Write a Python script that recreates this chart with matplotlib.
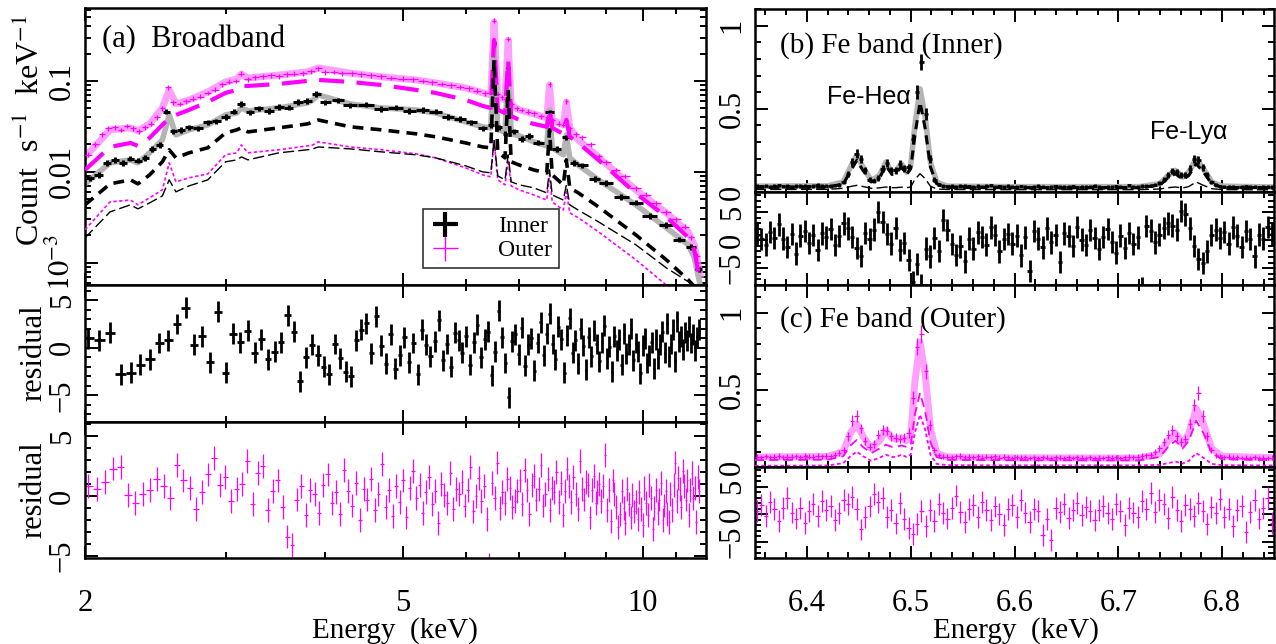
import numpy as np
import matplotlib
matplotlib.use("Agg")
import matplotlib.pyplot as plt
from matplotlib.lines import Line2D
from matplotlib.ticker import FixedLocator, MultipleLocator, FuncFormatter, NullFormatter, LogLocator

plt.rcParams['font.family'] = ['Liberation Serif', 'DejaVu Serif']
plt.rcParams['mathtext.fontset'] = 'stix'
plt.rcParams['axes.linewidth'] = 1.8

MAGENTA = '#ff00ff'
PINK = '#ff80ff'
GRAY = '#b4b4b4'

# ---- broadband spectrum: model curves (counts/s/keV) ----
bb_energy = [2.0, 2.15, 2.28, 2.33, 2.41, 2.5, 2.55, 2.6, 2.7, 2.85, 3.0, 3.1, 3.14, 3.2, 3.5,
             3.8, 3.86, 3.92, 4.3, 4.7, 5.2, 5.5, 6.0, 6.3, 6.45, 6.51, 6.58, 6.72, 6.78, 6.84,
             7.0, 7.3, 7.58, 7.64, 7.7, 7.95, 8.02, 8.1, 8.3, 8.8, 9.8, 10.7, 11.4, 11.6, 11.8]
outer_model = [0.0146, 0.029, 0.0305, 0.0282, 0.0337, 0.0505, 0.0796, 0.0558, 0.0618, 0.0757,
               0.0975, 0.105, 0.119, 0.108, 0.116, 0.126, 0.132, 0.139, 0.122, 0.111, 0.1026,
               0.095, 0.0838, 0.0738, 0.0702, 0.445, 0.0684, 0.0618, 0.282, 0.0545, 0.048,
               0.0434, 0.0392, 0.0903, 0.0372, 0.0328, 0.0587, 0.0305, 0.0225, 0.0146, 0.00634,
               0.00354, 0.00219, 0.00158, 0.00074]
outer_hot = [0.0105, 0.0188, 0.0208, 0.0193, 0.0237, 0.0328, 0.0392, 0.0423, 0.048, 0.0587,
             0.0738, 0.0796, 0.0881, 0.0881, 0.0927, 0.1, 0.1, 0.1026, 0.0975, 0.0903, 0.0796,
             0.0738, 0.0618, 0.0531, 0.0505, 0.282, 0.048, 0.0445, 0.170, 0.0412, 0.0372,
             0.0337, 0.0313, 0.048, 0.0305, 0.0262, 0.0372, 0.0243, 0.0208, 0.0135, 0.0058,
             0.0032, 0.0019, 0.00138, 0.00062]
outer_cool = [0.00231, 0.00468, 0.0049, 0.00434, 0.00518, 0.00634, 0.01256, 0.00777, 0.0086,
              0.0095, 0.0154, 0.0162, 0.0198, 0.0162, 0.0175, 0.0193, 0.0198, 0.0214, 0.0188,
              0.0175, 0.0158, 0.01426, 0.01106, 0.00927, 0.00881, 0.0225, 0.00817, 0.0072,
              0.01355, 0.00701, 0.00634, 0.00558, 0.0049, 0.00927, 0.00468, 0.0038, 0.00603,
              0.00354, 0.00313, 0.00219, 0.00108, 0.00057, 0.00039, 0.00034, 0.0003]
inner_model = [0.00738, 0.01256, 0.01355, 0.01256, 0.0162, 0.0225, 0.0423, 0.0255, 0.029, 0.0328,
               0.0423, 0.0445, 0.0505, 0.0468, 0.0505, 0.0573, 0.0618, 0.0702, 0.0558, 0.0505,
               0.048, 0.0445, 0.0354, 0.0313, 0.0305, 0.249, 0.029, 0.0275, 0.150, 0.0262, 0.0249,
               0.0214, 0.0193, 0.048, 0.0184, 0.0154, 0.0255, 0.01426, 0.0119, 0.00817, 0.00434,
               0.00243, 0.00158, 0.00114, 0.00057]
inner_hot = [0.00434, 0.00738, 0.00817, 0.00738, 0.00927, 0.0129, 0.0175, 0.01426, 0.0162, 0.0184,
             0.0268, 0.029, 0.0305, 0.0275, 0.0305, 0.0337, 0.0354, 0.0372, 0.0313, 0.029, 0.0262,
             0.0243, 0.0208, 0.0188, 0.0184, 0.170, 0.0166, 0.01426, 0.0796, 0.0129, 0.0119,
             0.0105, 0.00975, 0.029, 0.00927, 0.0072, 0.01355, 0.00667, 0.00588, 0.00412,
             0.00203, 0.00108, 0.00065, 0.00055, 0.00045]
inner_cool = [0.00188, 0.00363, 0.00434, 0.00392, 0.00456, 0.00544, 0.00817, 0.00603, 0.00701,
              0.00817, 0.0129, 0.01355, 0.0146, 0.01355, 0.0162, 0.0175, 0.0179, 0.0188, 0.0179,
              0.0166, 0.0154, 0.01426, 0.01164, 0.01, 0.00975, 0.0225, 0.00903, 0.00817, 0.0154,
              0.00777, 0.0072, 0.00667, 0.00588, 0.0105, 0.00558, 0.0049, 0.0072, 0.00434,
              0.0038, 0.00282, 0.00158, 0.00088, 0.00062, 0.00053, 0.00045]

# ---- broadband spectrum: data ----
inner_e = [2.03, 2.08, 2.13, 2.18, 2.23, 2.28, 2.33, 2.38, 2.43, 2.48, 2.53, 2.58, 2.64, 2.70,
           2.77, 2.85, 2.92, 3.00, 3.07, 3.14, 3.22, 3.30, 3.40, 3.50, 3.60, 3.70, 3.80, 3.90,
           4.00, 4.15, 4.30, 4.50, 4.70, 4.90, 5.10, 5.30, 5.50, 5.70, 5.90, 6.10, 6.30, 6.45,
           6.51, 6.60, 6.72, 6.78, 6.90, 7.05, 7.20, 7.40, 7.64, 7.80, 8.02, 8.20, 8.40, 8.70,
           9.00, 9.40, 9.80, 10.2, 10.7, 11.1, 11.5, 11.75]
inner_rate = [0.0085, 0.0092, 0.0125, 0.0135, 0.0126, 0.0140, 0.0133, 0.0143, 0.0180, 0.0198,
              0.046, 0.028, 0.029, 0.031, 0.030, 0.035, 0.036, 0.040, 0.046, 0.056, 0.045, 0.050,
              0.047, 0.052, 0.051, 0.059, 0.060, 0.072, 0.058, 0.061, 0.054, 0.055, 0.049, 0.051,
              0.047, 0.048, 0.046, 0.040, 0.038, 0.035, 0.030, 0.033, 0.26, 0.031, 0.026, 0.14,
              0.028, 0.023, 0.025, 0.021, 0.045, 0.018, 0.024, 0.0125, 0.0118, 0.0084, 0.0076,
              0.0053, 0.0046, 0.0033, 0.0026, 0.0018, 0.0015, 0.00085]
outer_e = [2.02, 2.06, 2.10, 2.14, 2.18, 2.22, 2.26, 2.30, 2.34, 2.38, 2.42, 2.46, 2.50, 2.54,
           2.58, 2.63, 2.68, 2.73, 2.79, 2.85, 2.91, 2.97, 3.03, 3.09, 3.14, 3.20, 3.27, 3.34,
           3.42, 3.50, 3.58, 3.66, 3.75, 3.84, 3.92, 4.00, 4.10, 4.20, 4.32, 4.44, 4.56, 4.70,
           4.84, 5.00, 5.15, 5.30, 5.45, 5.60, 5.75, 5.90, 6.05, 6.20, 6.35, 6.45, 6.51, 6.58,
           6.66, 6.72, 6.78, 6.85, 6.95, 7.05, 7.18, 7.30, 7.45, 7.58, 7.64, 7.72, 7.85, 7.95,
           8.02, 8.10, 8.25, 8.40, 8.60, 8.80, 9.00, 9.25, 9.50, 9.80, 10.1, 10.4, 10.7, 11.0,
           11.3, 11.5, 11.7]
outer_rate = [0.0155, 0.020, 0.026, 0.030, 0.031, 0.029, 0.032, 0.030, 0.028, 0.031, 0.034,
              0.040, 0.050, 0.085, 0.058, 0.056, 0.060, 0.064, 0.067, 0.074, 0.080, 0.092, 0.098,
              0.100, 0.120, 0.104, 0.110, 0.112, 0.115, 0.113, 0.118, 0.120, 0.122, 0.128, 0.138,
              0.124, 0.126, 0.121, 0.122, 0.118, 0.115, 0.112, 0.108, 0.106, 0.104, 0.100, 0.097,
              0.093, 0.090, 0.086, 0.083, 0.078, 0.073, 0.075, 0.46, 0.072, 0.066, 0.063, 0.29,
              0.056, 0.050, 0.048, 0.046, 0.044, 0.041, 0.040, 0.092, 0.037, 0.034, 0.033, 0.060,
              0.030, 0.026, 0.024, 0.020, 0.0150, 0.0128, 0.0105, 0.0090, 0.0066, 0.0056, 0.0045,
              0.0036, 0.0030, 0.0025, 0.0019, 0.0012]

# residuals of the broadband fit (2.02-11.76 keV, equal-width bins)
inner_resid = [1.0, 0.8, 1.6, -2.8, -2.6, -1.8, -1.2, 0.5, 0.8, 2.5, 4.2, 0.3, 1.2, -1.5, 3.8,
               -2.6, 1.5, 0.6, 1.8, -0.5, 0.9, -1.2, -0.4, 0.6, 3.4, 1.7, -3.5, -1.0, 0.3, -0.8,
               -2.0, -2.8, 0.4, -1.1, -2.5, -3.0, 0.8, 1.9, 2.6, -0.6, 3.3, 0.2, -1.7, 1.4, -2.2,
               -0.8, 1.1, -1.5, 0.5, -2.8, 1.9, 0.3, -0.9, 0.7, 2.9, -1.3, 0.4, -2.0, 1.6, 0.8,
               -0.5, 1.2, -1.8, 0.6, 2.4, -1.0, 0.9, 1.7, -2.9, -0.4, 3.9, 1.1, -1.6, -5.2, 0.7,
               1.4, -0.7, 2.1, -1.9, 0.3, 1.0, -2.4, 0.5, 2.7, -0.8, 1.5, 3.6, 0.4, -1.2, 2.2,
               0.9, -2.6, 1.3, 3.1, -0.5, 0.8, -1.7, 2.0, 0.2, -2.3, 1.1, -0.9, 1.8, 0.4, -1.4,
               0.6, 2.3, -1.1, 0.1, -2.5, 1.2, -0.3, 0.9, -1.8, 1.5, -0.6, 0.3, 2.0, -1.3, 0.5,
               -0.4, -2.7, 0.2, 1.0, -1.6, -0.8, 0.6, -2.2, 0.9, -1.1, 0.3, 1.7, -0.5, 2.6, -0.9,
               0.4, 1.9, -1.4, 2.8, 0.7, 1.2, -0.2, 1.6, 0.8, 2.2, 0.5, 1.4, -0.3, 1.1, 1.9]
outer_resid = [0.8, 0.6, 1.2, 2.3, 2.4, 0.1, -0.6, 0.2, 0.5, 1.4, 0.8, -0.2, 2.6, 1.3, 0.7, -1.1, 0.3, 1.8, 3.2, 0.9,
               1.6, -0.4, 0.6, 1.0, 2.9, -0.7, 1.9, 2.5, -1.2, 0.4, 1.3, -0.9, -3.4, -4.1, -0.3, 0.8, -1.6, 0.5, 0.2, -1.4,
               0.9, 1.8, -0.6, 0.3, -1.5, 2.2, 0.4, -0.8, 1.1, -2.0, 0.6, -0.3, 1.4, -1.2, 0.2, 2.7, -0.9, 0.5, -1.7, 0.8,
               -0.5, 1.3, -1.8, 0.7, 2.1, -0.2, 0.9, -1.4, 0.3, 1.6, -0.7, 0.4, -2.3, 1.0, 0.1, -0.6, 1.9, -1.1, 0.6, 0.2,
               1.2, -0.8, 0.5, 2.4, -1.3, 0.0, 1.5, -0.4, 0.8, -1.9, -5.8, 1.1, -0.2, 2.8, -1.0, 0.3, -0.6, 1.4, 0.7, -0.9,
               -0.4, 0.4, 1.3, -0.7, 2.2, 0.5, -1.5, 0.9, 1.7, -0.3, 0.6, 2.6, -0.8, 0.2, 1.4, -1.2, 0.7, 0.3, 2.0, -0.5,
               1.1, -1.6, 0.4, 2.3, 0.8, -0.5, 1.6, 0.2, -1.1, 2.9, 0.6, -0.3, 1.2, 0.9, -1.8, 0.5, 1.7, -0.6, 0.3, 1.0,
               -0.4, 0.8, 3.4, -1.2, 0.5, -2.1, 1.3, 0.2, -0.9, -2.6, -1.5, 0.4, -1.0, -2.3, 0.6, -0.7, -1.8, 0.1, -1.3, -0.5,
               -1.9, 0.3, -1.1, -2.4, 0.7, -0.6, -1.6, 0.9, -0.2, -2.8, -1.0, 0.5, -1.4, -0.3, 1.1, -2.0, -0.8, 0.4, -1.5, -2.2,
               0.2, -1.2, 0.9, 2.8, -0.4, 1.5, 0.6, -0.9, 2.1, 0.8, -0.3, 1.3, -1.6, 0.5, 1.9, -0.2, 0.7, -2.2, 1.6, 0.4]

# ---- Fe band: model curves ----
fe_energy = [6.35, 6.42, 6.435, 6.442, 6.448, 6.454, 6.462, 6.470, 6.476, 6.482, 6.486, 6.491,
             6.496, 6.500, 6.504, 6.509, 6.514, 6.519, 6.525, 6.535, 6.60, 6.72, 6.740, 6.748,
             6.755, 6.762, 6.768, 6.775, 6.782, 6.790, 6.80, 6.85]
fe_in_model = [0.035, 0.037, 0.06, 0.15, 0.22, 0.15, 0.07, 0.10, 0.18, 0.12, 0.13, 0.17, 0.12,
               0.16, 0.40, 0.62, 0.45, 0.18, 0.06, 0.035, 0.032, 0.032, 0.05, 0.10, 0.13, 0.09,
               0.12, 0.20, 0.14, 0.06, 0.035, 0.030]
fe_in_hot = [0.028, 0.029, 0.048, 0.125, 0.19, 0.13, 0.06, 0.085, 0.16, 0.105, 0.115, 0.15, 0.105,
             0.14, 0.34, 0.54, 0.38, 0.15, 0.05, 0.028, 0.026, 0.026, 0.042, 0.085, 0.11, 0.075,
             0.10, 0.17, 0.12, 0.05, 0.028, 0.024]
fe_in_cool = [0.015, 0.016, 0.022, 0.033, 0.040, 0.033, 0.022, 0.025, 0.030, 0.026, 0.026, 0.029,
              0.026, 0.030, 0.075, 0.110, 0.080, 0.035, 0.018, 0.015, 0.014, 0.014, 0.018, 0.026,
              0.030, 0.024, 0.033, 0.060, 0.040, 0.020, 0.014, 0.013]
fe_out_model = [0.065, 0.068, 0.10, 0.22, 0.28, 0.20, 0.12, 0.17, 0.235, 0.19, 0.18, 0.19, 0.17,
                0.20, 0.55, 0.81, 0.60, 0.25, 0.09, 0.065, 0.060, 0.058, 0.085, 0.17, 0.22, 0.15,
                0.22, 0.38, 0.28, 0.12, 0.07, 0.06]
fe_out_hot = [0.045, 0.047, 0.07, 0.14, 0.175, 0.13, 0.09, 0.12, 0.145, 0.13, 0.13, 0.14, 0.13,
              0.14, 0.34, 0.48, 0.36, 0.16, 0.065, 0.046, 0.044, 0.043, 0.065, 0.13, 0.17, 0.12,
              0.17, 0.30, 0.22, 0.09, 0.05, 0.044]
fe_out_cool = [0.008, 0.010, 0.025, 0.07, 0.10, 0.07, 0.04, 0.06, 0.08, 0.065, 0.065, 0.08, 0.065,
               0.08, 0.22, 0.34, 0.24, 0.08, 0.02, 0.012, 0.011, 0.011, 0.014, 0.025, 0.035, 0.022,
               0.04, 0.09, 0.06, 0.02, 0.012, 0.010]

# ---- Fe band: data and residuals (6.352-6.848 keV, equal-width bins) ----
fe_in_rate = [0.036, 0.034, 0.038, 0.033, 0.035, 0.040, 0.034, 0.036, 0.032, 0.037,
              0.035, 0.038, 0.034, 0.036, 0.041, 0.037, 0.039, 0.036, 0.040, 0.044,
              0.060, 0.11, 0.18, 0.23, 0.20, 0.13, 0.075, 0.066, 0.085, 0.14,
              0.175, 0.13, 0.13, 0.17, 0.14, 0.15, 0.32, 0.60, 0.78, 0.47,
              0.20, 0.075, 0.045, 0.037, 0.034, 0.038, 0.033, 0.036, 0.039, 0.034,
              0.031, 0.035, 0.033, 0.036, 0.040, 0.032, 0.034, 0.031, 0.035, 0.033,
              0.030, 0.034, 0.032, 0.029, 0.033, 0.035, 0.031, 0.028, 0.032, 0.034,
              0.030, 0.033, 0.031, 0.034, 0.029, 0.032, 0.030, 0.033, 0.035, 0.031,
              0.028, 0.032, 0.030, 0.034, 0.031, 0.029, 0.040, 0.033, 0.031, 0.035,
              0.036, 0.038, 0.045, 0.055, 0.075, 0.10, 0.125, 0.12, 0.10, 0.10,
              0.14, 0.20, 0.19, 0.15, 0.10, 0.06, 0.042, 0.034, 0.032, 0.030,
              0.033, 0.029, 0.031, 0.034, 0.030, 0.032, 0.029, 0.033, 0.031, 0.030]
fe_out_rate = [0.066, 0.063, 0.070, 0.064, 0.068, 0.072, 0.062, 0.067, 0.065, 0.069,
               0.064, 0.071, 0.066, 0.068, 0.074, 0.069, 0.072, 0.070, 0.078, 0.090,
               0.11, 0.20, 0.30, 0.33, 0.25, 0.17, 0.13, 0.15, 0.21, 0.24,
               0.235, 0.20, 0.19, 0.18, 0.19, 0.22, 0.45, 0.78, 0.86, 0.62,
               0.27, 0.11, 0.075, 0.066, 0.068, 0.063, 0.069, 0.071, 0.062, 0.066,
               0.064, 0.070, 0.061, 0.067, 0.063, 0.069, 0.060, 0.065, 0.062, 0.058,
               0.064, 0.061, 0.063, 0.059, 0.062, 0.057, 0.064, 0.060, 0.058, 0.063,
               0.061, 0.059, 0.062, 0.058, 0.064, 0.060, 0.057, 0.063, 0.059, 0.061,
               0.058, 0.062, 0.060, 0.064, 0.059, 0.062, 0.066, 0.063, 0.068, 0.072,
               0.075, 0.080, 0.095, 0.12, 0.16, 0.21, 0.24, 0.20, 0.16, 0.18,
               0.28, 0.40, 0.48, 0.33, 0.20, 0.11, 0.075, 0.066, 0.062, 0.065,
               0.060, 0.063, 0.058, 0.061, 0.059, 0.062, 0.057, 0.060, 0.058, 0.061]
fe_in_resid = [1.0, 0.2, -0.8, 1.5, 0.4, 2.8, 0.3, -1.2, 1.1, -2.4,
               0.8, 1.6, -0.5, 0.9, -1.8, 1.2, 0.5, 2.0, -0.9, 0.7,
               3.0, 2.1, 0.6, -1.4, -2.8, 1.3, 0.2, 1.9, 5.0, 3.2,
               1.1, -0.6, 2.2, -1.8, -0.5, -3.5, -7.5, -4.2, -8.0, -1.5,
               -2.9, 0.4, -1.9, 3.6, 1.8, -0.7, -2.6, -1.1, -3.8, 0.3,
               -1.5, 1.4, 0.6, -0.8, 2.3, 0.9, -2.0, 0.2, 1.1, -0.6,
               0.8, -2.7, 0.5, -5.5, 1.6, 0.3, -1.3, 2.1, -0.4, 0.9,
               -3.9, 1.2, 0.7, -1.0, 2.4, 0.1, -0.9, 1.8, 0.4, -1.6,
               0.6, 2.0, -0.3, -2.2, 0.8, -1.4, 1.3, -0.7, 0.5, -8.5,
               2.5, 1.7, -0.4, 1.0, 2.2, 3.0, 2.6, 1.9, 5.2, 4.6,
               2.1, -1.0, -3.4, -4.1, -2.0, 0.9, 1.9, 0.4, 1.5, -0.6,
               2.3, 0.8, -1.2, 1.6, 0.2, -2.9, 1.0, 0.3, 2.4, 1.1]
fe_out_resid = [0.5, 1.6, -0.4, 2.2, 0.9, -1.3, 1.1, 3.0, 0.3, -0.8,
                1.2, -1.6, 0.6, 1.8, -0.3, 2.4, 0.7, 1.5, -1.1, 0.2,
                2.5, 1.8, 3.2, 1.0, -2.8, -0.5, 1.4, 3.6, 2.2, 2.9,
                -0.6, 0.8, -1.7, 2.1, -0.9, -2.5, -3.6, -1.8, 0.5, -2.2,
                0.7, -1.3, 1.9, 0.2, -0.8, 1.2, 3.4, 0.4, -1.5, 0.9,
                1.6, -0.6, 2.3, 0.8, -1.0, 1.4, 0.1, -2.0, 0.9, 1.7,
                -0.5, 2.6, 0.3, -1.4, 1.0, 0.6, -3.8, -0.9, -4.8, 1.2,
                0.4, 1.9, -0.7, 0.8, 2.1, -0.2, 1.3, 0.5, -1.1, 0.7,
                1.5, 0.2, -0.9, 1.8, 0.6, -1.9, 1.1, 0.3, -0.5, 2.4,
                1.0, 3.8, 0.4, 2.6, 1.9, -0.7, 3.1, 0.8, -1.3, 1.6,
                0.9, -0.4, 2.0, 0.5, -1.8, 1.3, 0.2, 2.7, -0.6, 1.0,
                -2.2, 0.7, 1.5, -3.2, 0.4, 2.5, -0.8, 1.1, 2.9, -1.6]

W, H = 1276, 644


def add_axes(fig, left, bottom, right, top):
    # panel placement in pixel units
    return fig.add_axes([left / W, 1 - bottom / H, (right - left) / W, (bottom - top) / H])


def num_label(v, pos):
    return f'{v:g}'.replace('-', '\u2212')


def style(ax):
    ax.tick_params(which='both', direction='in', top=True, right=True, width=1.4,
                   labelsize=22, pad=6)
    ax.tick_params(which='major', length=9)
    ax.tick_params(which='minor', length=4.5)
    ax.tick_params(axis='y', labelrotation=90)
    ax.tick_params(axis='x', labelbottom=False)


def half_widths(e):
    return np.gradient(np.asarray(e)) / 2


fig = plt.figure(figsize=(W / 100, H / 100), dpi=100)

ax_a = add_axes(fig, 85, 285, 706, 8)
ax_ri = add_axes(fig, 85, 422, 706, 285)
ax_ro = add_axes(fig, 85, 558, 706, 422)
ax_b = add_axes(fig, 755, 192, 1274, 9)
ax_br = add_axes(fig, 755, 285, 1274, 192)
ax_c = add_axes(fig, 755, 467, 1274, 285)
ax_cr = add_axes(fig, 755, 558, 1274, 467)

# ---------- (a) broadband ----------
ax_a.plot(bb_energy, outer_model, color=PINK, lw=5, alpha=0.75, zorder=2)
ax_a.errorbar(outer_e, outer_rate, xerr=half_widths(outer_e), yerr=np.array(outer_rate) * 0.06,
              fmt='none', ecolor=MAGENTA, elinewidth=0.9, zorder=3)
ax_a.plot(bb_energy, outer_hot, color=MAGENTA, lw=3, dashes=(6, 3), zorder=4)
ax_a.plot(bb_energy, outer_cool, color=MAGENTA, lw=1.2, dashes=(2, 1.5), zorder=4)
ax_a.plot(bb_energy, inner_model, color=GRAY, lw=4, zorder=2)
ax_a.errorbar(inner_e, inner_rate, xerr=half_widths(inner_e), yerr=np.array(inner_rate) * 0.07,
              fmt='none', ecolor='k', elinewidth=2.2, zorder=3)
ax_a.plot(bb_energy, inner_hot, color='k', lw=2.6, dashes=(3, 2), zorder=4)
ax_a.plot(bb_energy, inner_cool, color='k', lw=1.0, dashes=(8, 3), zorder=4)

ax_a.set_xscale('log')
ax_a.set_yscale('log')
ax_a.set_xlim(2, 12)
ax_a.set_ylim(5.7e-4, 0.634)
ax_a.yaxis.set_major_locator(FixedLocator([1e-3, 1e-2, 1e-1]))
ax_a.yaxis.set_major_formatter(FuncFormatter(
    lambda v, p: {1e-3: '$10^{\u22123}$', 1e-2: '0.01', 1e-1: '0.1'}.get(round(v, 5), '')))
ax_a.yaxis.set_minor_locator(LogLocator(base=10, subs=np.arange(2, 10)))
ax_a.yaxis.set_minor_formatter(NullFormatter())
ax_a.text(0.027, 0.885, '(a)  Broadband', transform=ax_a.transAxes, fontsize=22, va='center')

h_in = Line2D([], [], color='k', marker='+', ls='none', markersize=18, mew=3)
h_out = Line2D([], [], color=MAGENTA, marker='+', ls='none', markersize=18, mew=1)
leg = ax_a.legend([h_in, h_out], ['Inner', 'Outer'], loc='lower left',
                  bbox_to_anchor=(0.544, 0.061), borderaxespad=0, frameon=True,
                  fancybox=False, edgecolor='k', fontsize=17, handletextpad=1.6,
                  borderpad=0.3, labelspacing=0.1, handlelength=1.3)
leg.get_frame().set_linewidth(1.2)

# ---------- broadband residuals ----------
e_ri = np.linspace(2.02, 11.76, len(inner_resid))
ax_ri.errorbar(e_ri, inner_resid, xerr=(e_ri[1] - e_ri[0]) / 2, yerr=1.1, fmt='none',
               ecolor='k', elinewidth=2.0)
e_ro = np.linspace(2.02, 11.76, len(outer_resid))
ax_ro.errorbar(e_ro, outer_resid, xerr=(e_ro[1] - e_ro[0]) / 2, yerr=1.0, fmt='none',
               ecolor=MAGENTA, elinewidth=0.9)

for ax in (ax_a, ax_ri, ax_ro):
    style(ax)
    ax.set_xscale('log')
    ax.set_xlim(2, 12)
    ax.xaxis.set_major_locator(FixedLocator([2, 5, 10]))
    ax.xaxis.set_minor_locator(FixedLocator([3, 4, 6, 7, 8, 9, 11]))
    ax.xaxis.set_minor_formatter(NullFormatter())
    ax.xaxis.set_major_formatter(FuncFormatter(num_label))
for ax in (ax_ri, ax_ro):
    ax.yaxis.set_major_locator(FixedLocator([-5, 0, 5]))
    ax.yaxis.set_minor_locator(MultipleLocator(1))
    ax.yaxis.set_major_formatter(FuncFormatter(num_label))
ax_ri.set_ylim(-7.8, 6.6)
ax_ro.set_ylim(-5.2, 6.2)
ax_ro.tick_params(axis='x', labelbottom=True, pad=22)

# ---------- (b) / (c) Fe band ----------
e_fe = np.linspace(6.352, 6.848, len(fe_in_rate))
dx_fe = (e_fe[1] - e_fe[0]) / 2

ax_b.plot(fe_energy, fe_in_model, color=GRAY, lw=4, zorder=2)
ax_b.errorbar(e_fe, fe_in_rate, xerr=dx_fe, yerr=np.sqrt(np.array(fe_in_rate) * 0.003),
              fmt='none', ecolor='k', elinewidth=2.0, zorder=3)
ax_b.plot(fe_energy, fe_in_hot, color='k', lw=2.2, dashes=(3, 2), zorder=4)
ax_b.plot(fe_energy, fe_in_cool, color='k', lw=1.0, dashes=(8, 3), zorder=4)
ax_b.set_ylim(0, 1.1)
ax_b.text(0.048, 0.80, '(b) Fe band (Inner)', transform=ax_b.transAxes, fontsize=21, va='center')
ax_b.text(6.460, 0.57, 'Fe-He\u03b1', fontsize=18, ha='center', va='center',
          family=['Liberation Sans', 'DejaVu Sans'])
ax_b.text(6.768, 0.36, 'Fe-Ly\u03b1', fontsize=18, ha='center', va='center',
          family=['Liberation Sans', 'DejaVu Sans'])

ax_br.errorbar(e_fe, fe_in_resid, xerr=dx_fe, yerr=2.0, fmt='none', ecolor='k', elinewidth=2.0)

ax_c.plot(fe_energy, fe_out_model, color=PINK, lw=5, alpha=0.75, zorder=2)
ax_c.errorbar(e_fe, fe_out_rate, xerr=dx_fe, yerr=np.sqrt(np.array(fe_out_rate) * 0.004),
              fmt='none', ecolor=MAGENTA, elinewidth=0.9, zorder=3)
ax_c.plot(fe_energy, fe_out_hot, color=MAGENTA, lw=1.3, dashes=(5, 3), zorder=4)
ax_c.plot(fe_energy, fe_out_cool, color=MAGENTA, lw=1.3, dashes=(2, 1.5), zorder=4)
ax_c.set_ylim(0, 1.18)
ax_c.text(0.048, 0.81, '(c) Fe band (Outer)', transform=ax_c.transAxes, fontsize=21, va='center')

ax_cr.errorbar(e_fe, fe_out_resid, xerr=dx_fe, yerr=2.0, fmt='none', ecolor=MAGENTA,
               elinewidth=0.9)

for ax in (ax_b, ax_br, ax_c, ax_cr):
    style(ax)
    ax.set_xlim(6.35, 6.85)
    ax.xaxis.set_major_locator(MultipleLocator(0.1))
    ax.xaxis.set_minor_locator(MultipleLocator(0.02))
    ax.xaxis.set_major_formatter(FuncFormatter(num_label))
    ax.yaxis.set_major_formatter(FuncFormatter(num_label))
for ax in (ax_b, ax_c):
    ax.yaxis.set_major_locator(FixedLocator([0, 0.5, 1]))
    ax.yaxis.set_minor_locator(MultipleLocator(0.1))
for ax in (ax_br, ax_cr):
    ax.set_ylim(-8.0, 8.6)
    ax.yaxis.set_major_locator(FixedLocator([-5, 0, 5]))
    ax.yaxis.set_minor_locator(MultipleLocator(1))
ax_cr.tick_params(axis='x', labelbottom=True, pad=22)

for ax in (ax_a, ax_ri, ax_ro, ax_b, ax_br, ax_c, ax_cr):
    for lab in ax.get_yticklabels():
        lab.set_va('center')

# axis titles
fig.text(30 / W, 1 - 130 / H, 'Count  s$^{\u22121}$  keV$^{\u22121}$', rotation=90,
         ha='center', va='center', fontsize=23)
fig.text(34 / W, 1 - 353 / H, 'residual', rotation=90, ha='center', va='center', fontsize=22)
fig.text(34 / W, 1 - 490 / H, 'residual', rotation=90, ha='center', va='center', fontsize=22)
fig.text(395 / W, 1 - 631 / H, 'Energy  (keV)', ha='center', va='center', fontsize=21)
fig.text(1016 / W, 1 - 631 / H, 'Energy  (keV)', ha='center', va='center', fontsize=21)

fig.savefig('out.png', dpi=100)
